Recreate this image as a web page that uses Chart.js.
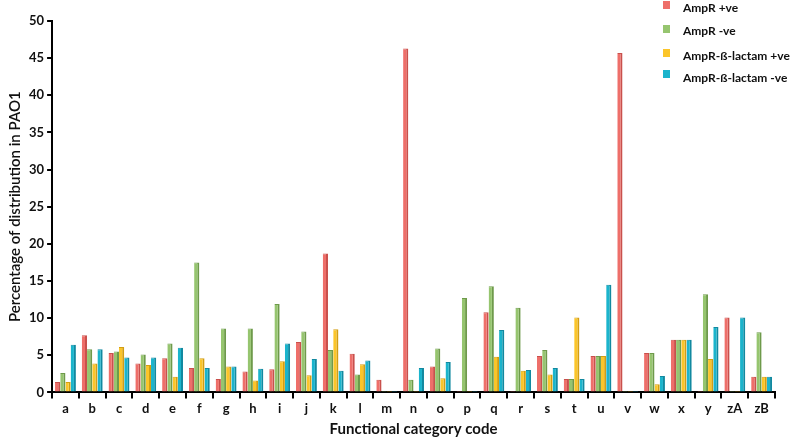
<!DOCTYPE html>
<html>
<head>
<meta charset="utf-8">
<script src="https://cdn.jsdelivr.net/npm/chart.js@4.4.1/dist/chart.umd.min.js"></script>
<style>
  html, body { margin: 0; padding: 0; background: #fff; }
  #wrap { width: 794px; height: 438px; position: relative; }
</style>
</head>
<body>
<div id="wrap"><canvas id="funcChart"></canvas></div>
<script>
// Functional category codes
const categories = ['a', 'b', 'c', 'd', 'e', 'f', 'g', 'h', 'i', 'j', 'k', 'l', 'm', 'n',
    'o', 'p', 'q', 'r', 's', 't', 'u', 'v', 'w', 'x', 'y', 'zA', 'zB'];

// Percentage of distribution in PAO1
const ampRPos =      [1.4, 7.7, 5.3, 3.9, 4.6, 3.3, 1.8, 2.8, 3.1, 6.8, 18.7, 5.2, 1.7, 46.3,
    3.5, 0.2, 10.8, 0.2, 4.9, 1.8, 4.9, 45.7, 5.3, 7.1, 0.2, 10.1, 2.1];
const ampRNeg =      [2.6, 5.8, 5.5, 5.1, 6.6, 17.5, 8.6, 8.6, 11.9, 8.2, 5.7, 2.4, 0.2, 1.7,
    5.9, 12.7, 14.3, 11.4, 5.7, 1.8, 4.9, 0.2, 5.3, 7.1, 13.2, 0.2, 8.1];
const lactamPos =    [1.4, 3.9, 6.1, 3.7, 2.1, 4.6, 3.5, 1.6, 4.2, 2.3, 8.5, 3.8, 0.2, 0.2,
    1.9, 0.2, 4.8, 2.9, 2.4, 10.1, 4.9, 0.2, 1.1, 7.1, 4.5, 0.2, 2.1];
const lactamNeg =    [6.4, 5.8, 4.7, 4.7, 6.0, 3.3, 3.5, 3.2, 6.6, 4.5, 2.9, 4.3, 0.2, 3.3,
    4.1, 0.2, 8.4, 3.0, 3.3, 1.8, 14.5, 0.2, 2.2, 7.1, 8.8, 10.1, 2.1];

const yTicks = [0, 5, 10, 15, 20, 25, 30, 35, 40, 45, 50];

const FONT = 'Lato, "Open Sans", sans-serif';

function series(label, data, fill, edge) {
    return {
        label: label,
        data: data,
        backgroundColor: fill,
        borderColor: edge,
        borderWidth: { top: 1, right: 2, left: 0, bottom: 0 },
        borderSkipped: false,
        categoryPercentage: 0.78,
        barPercentage: 1.0
    };
}

// Legend drawn inside the plot, top right, like the original figure
const cornerLegend = {
    id: 'cornerLegend',
    afterDraw(chart) {
        const ctx = chart.ctx;
        const rows = [
            { sq: 5, tx: 8 },
            { sq: 29, tx: 31 },
            { sq: 53, tx: 56 },
            { sq: 74, tx: 78 }
        ];
        ctx.save();
        ctx.font = 'bold 12px ' + FONT;
        ctx.textBaseline = 'middle';
        ctx.textAlign = 'left';
        chart.data.datasets.forEach((ds, i) => {
            ctx.fillStyle = ds.backgroundColor;
            ctx.fillRect(663, rows[i].sq - 4, 7, 8);
            ctx.fillStyle = '#111';
            ctx.fillText(ds.label, 683, rows[i].tx);
        });
        ctx.restore();
    }
};

const ctx = document.getElementById('funcChart').getContext('2d');
new Chart(ctx, {
    type: 'bar',
    data: {
        labels: categories,
        datasets: [
            series('AmpR +ve', ampRPos, '#EE6F6A', '#C9504C'),
            series('AmpR -ve', ampRNeg, '#96C56F', '#6E9A4B'),
            series('AmpR-\u00DF-lactam +ve', lactamPos, '#FBC52A', '#D39E12'),
            series('AmpR-\u00DF-lactam -ve', lactamNeg, '#1BB4CC', '#1289A0')
        ]
    },
    options: {
        responsive: true,
        maintainAspectRatio: false,
        animation: false,
        layout: { padding: { left: 6, right: 19, top: 21, bottom: 0 } },
        plugins: {
            legend: { display: false },
            tooltip: { enabled: false }
        },
        scales: {
            x: {
                grid: { offset: true, drawOnChartArea: false, drawTicks: true, tickLength: 6, color: '#000', lineWidth: 2 },
                border: { color: '#000', width: 2 },
                ticks: { color: '#111', font: { family: FONT, size: 13, weight: 'bold' }, padding: 3, maxRotation: 0, autoSkip: false },
                title: { display: true, text: 'Functional category code', color: '#111',
                         font: { family: FONT, size: 15, weight: 'bold' }, padding: { top: 0, bottom: 0 } }
            },
            y: {
                min: 0,
                max: 50,
                afterBuildTicks(scale) {
                    scale.ticks = yTicks.map(v => ({ value: v }));
                },
                grid: { drawOnChartArea: false, drawTicks: true, tickLength: 5, color: '#000', lineWidth: 2 },
                border: { color: '#000', width: 2 },
                ticks: { color: '#111', font: { family: FONT, size: 13, weight: 'bold' }, padding: 3 },
                title: { display: true, text: 'Percentage of distribution in PAO1', color: '#111',
                         font: { family: FONT, size: 15, weight: '600' }, padding: { top: 0, bottom: 2 } }
            }
        }
    },
    plugins: [cornerLegend]
});
</script>
</body>
</html>
